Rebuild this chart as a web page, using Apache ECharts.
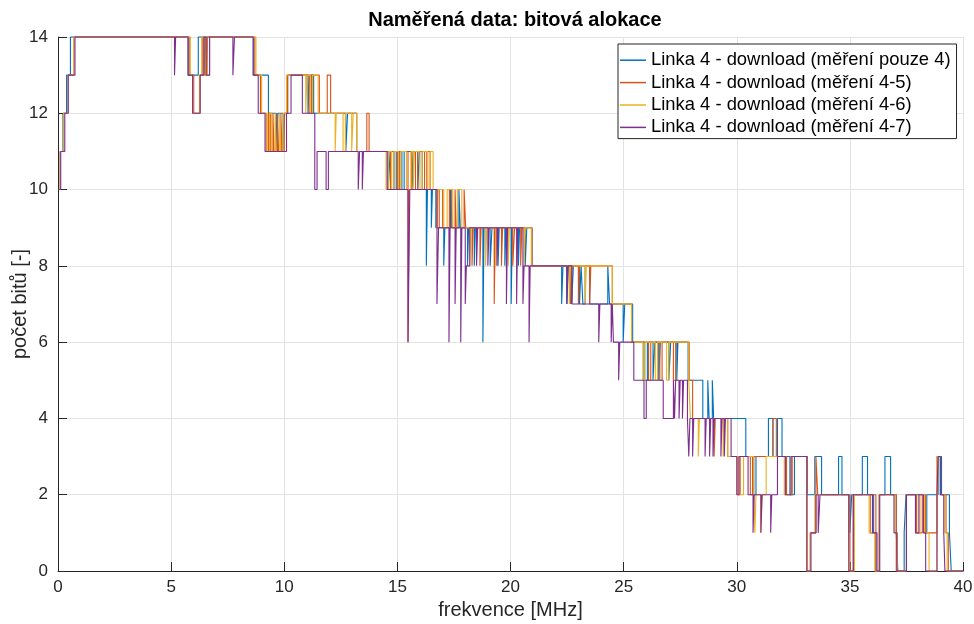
<!DOCTYPE html>
<html>
<head>
<meta charset="utf-8">
<script src="https://cdn.jsdelivr.net/npm/echarts@6/dist/echarts.min.js"></script>
<style>html,body{margin:0;padding:0;background:#fff}#c{width:974px;height:624px}</style>
</head>
<body>
<div id="c"></div>
<script>
// Series names
const seriesNames = [
  'Linka 4 - download (měření pouze 4)',
  'Linka 4 - download (měření 4-5)',
  'Linka 4 - download (měření 4-6)',
  'Linka 4 - download (měření 4-7)'
];
// Axis ticks
const xTicks = [0, 5, 10, 15, 20, 25, 30, 35, 40];
const yTicks = [0, 2, 4, 6, 8, 10, 12, 14];

// Change points [frequency MHz, bits] (value held until next point)
const blueData = [[0,10],[0.1,11],[0.22,12],[0.38,13],[0.55,14],
[5.75,13],[6.2,14],[6.45,13],[6.52,14],
[8.65,13],[9.3,12],[9.65,11],[9.72,12],[9.95,11],[10.02,12],[10.15,13],
[11.05,12],[11.12,13],[11.3,12],[12.72,11],[12.8,12],[13.2,11],
[14.6,10],[14.68,11],[14.85,10],[14.95,11],[15.2,10],[15.3,11],[15.65,10],[15.72,11],[15.9,10],[15.98,11],[16.1,10],[16.28,8],[16.33,10],[16.5,9],[16.55,10],[16.7,9],
[17.05,8],[17.1,9],[17.35,10],[17.42,9],[17.72,10],[17.78,9],
[18.1,8],[18.15,9],[18.4,8],[18.45,9],[18.78,6],[18.83,9],[19.1,8],[19.18,9],[19.45,8],[19.5,9],[19.75,8],[19.8,9],[20.03,7],[20.08,9],[20.35,8],[20.4,9],[20.65,8],[20.72,9],[20.95,8],
[22.26,7],[22.32,8],[22.48,7],[22.55,8],[22.7,7],[22.78,8],[23.05,7],[23.12,8],[23.2,7],[23.3,8],[23.5,7],[24.3,8],[24.38,7],[24.98,6],[25.05,7],
[25.4,6],[25.9,5],[26.05,6],[26.3,5],[26.38,6],[26.55,5],[26.62,6],[27.0,5],[27.08,6],[27.35,5],[27.4,6],[27.85,5],
[28.5,4],[28.72,5],[28.78,4],[28.92,5],[28.98,4],
[30.4,3],[30.75,2],[30.85,3],[31.4,4],[31.6,3],[31.8,4],[32.0,3],[32.35,2],[32.55,3],
[33.12,2],[33.45,3],[33.75,2],[34.5,3],[34.65,2],[35.0,1],[35.08,2],[35.55,3],[35.78,2],[36.05,1],[36.15,0],[36.3,2],[36.55,3],[36.8,2],[37.05,1],[37.12,0],[37.4,1],[37.48,2],[38.3,1],[38.4,2],[38.9,3],[39.05,2],[39.4,1],[39.48,0],[40,0]];

const orangeData = [[0,10],[0.1,11],[0.25,12],[0.45,13],[0.7,14],
[5.8,13],[6.0,12],[6.28,13],[6.4,14],[6.5,13],[6.6,14],
[8.7,13],[8.95,12],[9.2,11],[9.3,12],[9.4,11],[9.5,12],[9.55,11],[9.7,12],[9.75,11],[9.85,12],[9.9,11],[10.0,12],[10.15,13],
[11.1,12],[11.2,13],[11.55,12],[11.9,13],[12.05,12],[13.2,11],[13.65,12],[13.75,11],
[14.6,10],[14.7,11],[15.0,10],[15.1,11],[15.47,6],[15.52,10],[15.62,11],[15.8,10],[15.9,11],[16.2,10],[16.3,11],[16.45,10],
[16.75,9],[16.85,10],[17.0,9],[17.3,10],[17.4,9],[17.55,10],[17.6,9],[17.95,10],[18.02,9],
[18.3,8],[18.35,9],[18.65,8],[18.7,9],[19.28,7],[19.33,9],[19.6,8],[19.65,9],[20.1,8],[20.18,9],[20.45,8],[20.5,9],[20.95,8],
[22.65,7],[22.7,8],[23.0,7],[23.05,8],[23.5,7],[23.55,8],[24.5,7],
[25.35,6],[26.1,5],[26.2,6],[26.6,5],[26.7,6],[27.2,5],[27.3,6],[27.9,5],[28.05,4],
[29.0,3],[29.05,4],[29.6,3],[30.05,2],[30.15,3],[30.6,2],[30.7,3],[31.6,4],[31.75,3],[32.2,2],[32.45,3],
[33.1,0],[33.25,1],[33.5,3],[33.58,2],[35.0,0],[35.15,2],[35.9,1],[36.0,2],[36.15,0],[36.3,2],[37.05,0],[37.5,2],[37.95,1],[38.2,2],[38.35,1],[38.85,3],[39.0,2],[39.25,1],[39.35,0],[40,0]];

const yellowData = [[0,10],[0.1,11],[0.25,12],[0.45,13],[0.7,14],
[5.85,13],[5.95,12],[6.25,13],[6.35,14],[6.45,13],[6.55,14],[6.6,13],[6.7,14],
[8.75,13],[9.0,12],[9.25,11],[9.35,12],[9.45,11],[9.6,12],[9.65,11],[9.8,12],[9.85,11],[9.95,12],[10.1,13],
[10.95,12],[11.0,13],[11.15,12],[11.25,13],[11.5,12],[12.25,11],[12.3,12],[12.6,11],[12.7,12],[12.98,11],[13.05,12],[13.2,11],
[14.5,10],[14.6,11],[14.75,10],[14.85,11],[15.05,10],[15.15,11],[15.4,10],[15.6,11],[15.7,10],[15.75,11],[16.0,10],[16.1,11],[16.35,10],[16.45,11],[16.58,10],
[16.75,9],[16.8,10],[17.05,9],[17.2,10],[17.45,9],[17.65,10],[17.85,9],
[18.2,8],[18.25,9],[18.9,8],[18.95,9],[19.35,8],[19.4,9],[19.9,8],[19.95,9],[20.6,8],[20.65,9],[20.92,8],
[22.6,7],[22.65,8],[23.3,7],[23.35,8],[24.5,7],
[25.35,6],[25.85,5],[25.95,6],[26.4,5],[26.5,6],[26.9,5],[27.0,6],[27.88,5],[27.95,4],
[28.3,3],[28.35,4],[29.4,3],[29.45,4],[29.6,3],[30.1,2],[30.3,3],[30.75,2],[30.8,1],[30.85,2],[31.05,1],[31.12,2],[31.3,3],[32.1,2],[32.4,3],
[33.1,0],[33.25,1],[33.45,2],[34.95,1],[35.0,0],[35.2,2],[35.85,1],[36.1,0],[36.3,2],[37.0,1],[37.1,0],[37.5,2],[37.9,1],[38.1,2],[38.3,1],[38.5,0],[38.85,3],[39.0,2],[39.2,1],[39.3,0],[40,0]];

const purpleData = [[0,10],[0.12,11],[0.3,12],[0.45,13],[0.75,14],
[5.15,13],[5.2,14],
[5.75,13],[5.95,12],[6.28,13],[6.45,14],[6.55,13],[6.7,14],
[7.73,13],[7.8,14],
[8.62,13],[8.85,12],[9.15,11],[10.1,12],[10.3,13],
[10.8,12],[11.35,10],[11.45,11],[11.85,10],[11.95,11],
[13.27,10],[13.33,11],[13.45,10],[13.5,11],
[14.55,10],[15.47,6],[15.55,10],
[16.75,7],[16.82,9],[17.28,6],[17.33,9],[17.55,7],[17.6,9],[17.8,6],[17.85,9],[18.0,7],[18.05,8],[18.2,9],[18.5,8],[18.55,9],[19.0,8],[19.05,9],[19.4,8],[19.45,9],[19.82,7],[19.87,9],[20.27,7],[20.32,9],[20.55,7],[20.6,8],[20.82,6],[20.87,8],
[22.5,7],[22.55,8],[22.72,7],[23.9,6],[23.95,7],[24.45,6],[24.5,7],[24.55,6],[24.78,5],[24.83,6],
[25.45,5],[25.9,4],[26.0,5],[26.75,4],[27.2,5],[27.25,4],[27.3,5],[27.45,4],[27.5,5],[27.6,4],[27.65,5],[27.82,4],[27.88,3],[27.93,4],[28.05,3],[28.1,4],[28.6,3],[28.65,4],[28.8,3],[28.85,4],[28.95,3],[29.0,4],[29.3,3],[29.35,4],[29.45,3],[29.5,4],[29.75,3],
[30.0,2],[30.1,3],[30.5,2],[30.72,1],[30.77,2],[31.07,1],[31.12,2],[31.5,1],[31.55,2],[31.8,3],[32.15,2],[32.4,3],
[33.1,0],[33.28,1],[33.5,2],[33.6,1],[33.68,2],[34.95,0],[35.15,2],[36.0,1],[36.2,0],[36.32,2],[36.95,1],[37.08,0],[37.5,2],[37.9,1],[38.05,2],[38.25,1],[38.35,0],[38.85,2],[38.9,3],[39.0,2],[39.15,1],[39.2,0],[40,0]];

const colors = ['#0072BD', '#D95319', '#EDB120', '#7E2F8E'];
const allData = [blueData, orangeData, yellowData, purpleData];
const FONT = "'Liberation Sans', Arial, Helvetica, sans-serif";
const AX = '#262626';

const chart = echarts.init(document.getElementById('c'), null, {renderer: 'canvas'});
chart.setOption({
  animation: false,
  backgroundColor: '#fff',
  title: {
    text: 'Naměřená data: bitová alokace',
    left: 510, top: 5, textAlign: 'center',
    textStyle: {fontFamily: FONT, fontSize: 20, fontWeight: 'bold', color: '#000'}
  },
  grid: {left: 58, right: 11, top: 37, bottom: 53, containLabel: false, outerBoundsMode: 'none'},
  legend: {
    orient: 'vertical', left: 618, top: 44,
    data: seriesNames,
    icon: 'rect', itemWidth: 26, itemHeight: 1.5, itemGap: 0,
    padding: [5, 6, 0, 2],
    backgroundColor: '#fff', borderColor: AX, borderWidth: 1,
    textStyle: {fontFamily: FONT, fontSize: 18.4, color: '#000', lineHeight: 22.4}
  },
  xAxis: {
    type: 'value', min: xTicks[0], max: xTicks[xTicks.length - 1], interval: 5,
    name: 'frekvence [MHz]', nameLocation: 'middle', nameGap: 29, nameMoveOverlap: false,
    nameTextStyle: {fontFamily: FONT, fontSize: 20, color: AX},
    axisLine: {show: true, onZero: false, lineStyle: {color: AX, width: 1}},
    axisTick: {show: true, inside: true, length: 9, lineStyle: {color: AX}},
    axisLabel: {fontFamily: FONT, fontSize: 17, color: AX, margin: 8},
    splitLine: {show: true, lineStyle: {color: '#e3e3e3', width: 1}}
  },
  yAxis: {
    type: 'value', min: yTicks[0], max: yTicks[yTicks.length - 1], interval: 2,
    name: 'počet bitů [-]', nameLocation: 'middle', nameGap: 28, nameMoveOverlap: false,
    nameTextStyle: {fontFamily: FONT, fontSize: 20, color: AX},
    axisLine: {show: true, onZero: false, lineStyle: {color: AX, width: 1}},
    axisTick: {show: true, inside: true, length: 9, lineStyle: {color: AX}},
    axisLabel: {fontFamily: FONT, fontSize: 17, color: AX, margin: 10},
    splitLine: {show: true, lineStyle: {color: '#e3e3e3', width: 1}}
  },
  series: allData.map((d, i) => ({
    name: seriesNames[i],
    type: 'line',
    step: 'end',
    data: d,
    showSymbol: false,
    symbol: 'none',
    clip: false,
    color: colors[i],
    lineStyle: {color: colors[i], width: 1.1},
    z: 2 + i
  }))
});
</script>
</body>
</html>
